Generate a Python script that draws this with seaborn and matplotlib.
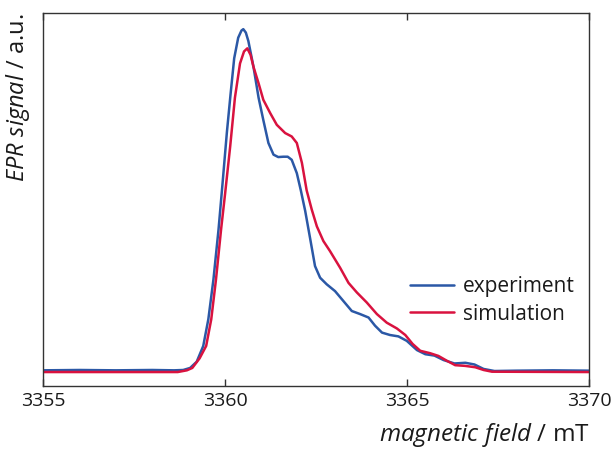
import pandas as pd
import seaborn as sns
from matplotlib import pyplot as plt

field_exp = [3355.0, 3356.0, 3357.0, 3358.0, 3358.6, 3358.85, 3359.04, 3359.22, 3359.4, 3359.54,
             3359.68, 3359.82, 3359.93, 3360.05, 3360.15, 3360.25, 3360.36, 3360.45, 3360.5, 3360.57,
             3360.64, 3360.78, 3360.92, 3361.05, 3361.19, 3361.33, 3361.46, 3361.6, 3361.72, 3361.83,
             3361.97, 3362.08, 3362.2, 3362.34, 3362.47, 3362.61, 3362.79, 3363.02, 3363.25, 3363.48,
             3363.71, 3363.94, 3364.12, 3364.31, 3364.53, 3364.76, 3364.99, 3365.27, 3365.5, 3365.75,
             3366.0, 3366.3, 3366.6, 3366.85, 3367.1, 3367.4, 3368.0, 3369.0, 3370.0]
signal_exp = [0.005, 0.006, 0.005, 0.006, 0.005, 0.006, 0.012, 0.03, 0.076, 0.154,
              0.27, 0.416, 0.55, 0.70, 0.81, 0.915, 0.975, 0.996, 1.0, 0.99,
              0.965, 0.89, 0.80, 0.735, 0.668, 0.634, 0.627, 0.628, 0.628, 0.619,
              0.58, 0.53, 0.47, 0.387, 0.309, 0.275, 0.256, 0.236, 0.207, 0.178,
              0.169, 0.159, 0.135, 0.115, 0.108, 0.104, 0.091, 0.064, 0.052, 0.048,
              0.035, 0.025, 0.027, 0.022, 0.009, 0.003, 0.004, 0.005, 0.004]

field_sim = [3355.0, 3357.0, 3358.7, 3358.95, 3359.1, 3359.3, 3359.48, 3359.62, 3359.75, 3359.89,
             3360.0, 3360.14, 3360.27, 3360.41, 3360.52, 3360.61, 3360.7, 3360.78, 3360.92, 3361.05,
             3361.24, 3361.42, 3361.65, 3361.83, 3361.97, 3362.11, 3362.24, 3362.38, 3362.52, 3362.7,
             3362.88, 3363.16, 3363.39, 3363.62, 3363.89, 3364.17, 3364.44, 3364.72, 3364.95, 3365.15,
             3365.36, 3365.63, 3365.86, 3366.09, 3366.32, 3366.59, 3366.87, 3367.1, 3367.33, 3370.0]
signal_sim = [0.0, 0.0, 0.0, 0.005, 0.012, 0.04, 0.076, 0.154, 0.27, 0.416,
              0.52, 0.658, 0.80, 0.90, 0.935, 0.944, 0.925, 0.89, 0.842, 0.794,
              0.755, 0.721, 0.697, 0.687, 0.668, 0.61, 0.53, 0.474, 0.425, 0.382,
              0.353, 0.304, 0.26, 0.232, 0.203, 0.169, 0.144, 0.127, 0.108, 0.082,
              0.062, 0.055, 0.047, 0.033, 0.02, 0.018, 0.014, 0.006, 0.001, 0.0]

df = pd.concat([
    pd.DataFrame({'field': field_exp, 'signal': signal_exp, 'kind': 'experiment'}),
    pd.DataFrame({'field': field_sim, 'signal': signal_sim, 'kind': 'simulation'}),
])

sns.set_style('white')
plt.rcParams['font.family'] = ['Open Sans', 'DejaVu Sans']
plt.rcParams['mathtext.fontset'] = 'custom'
plt.rcParams['mathtext.it'] = 'Open Sans:italic'
plt.rcParams['mathtext.rm'] = 'Open Sans'
plt.rcParams['lines.solid_joinstyle'] = 'round'

fig = plt.figure(figsize=(6.15, 4.5), dpi=100)
ax = fig.add_axes([0.07, 0.142, 0.888, 0.829])
sns.lineplot(data=df, x='field', y='signal', hue='kind', sort=False,
             palette={'experiment': '#2b58a6', 'simulation': '#d9123f'},
             linewidth=1.8, ax=ax)

ax.set_xlim(3355, 3370)
ax.set_ylim(-0.041, 1.047)
ax.set_xticks([3355, 3360, 3365, 3370])
ax.set_yticks([])
ax.tick_params(axis='x', direction='in', length=5, width=1, top=True, bottom=True,
               labelsize=14, pad=4, color='#333333', labelcolor='#1a1a1a')
for s in ax.spines.values():
    s.set_color('#333333')
    s.set_linewidth(1)

ax.set_xlabel(r'$\it{magnetic\ field}$ / mT', fontsize=17.5, loc='right', labelpad=8,
              color='#1a1a1a')
ax.set_ylabel(r'$\it{EPR\ signal}$ / a.u.', fontsize=17, loc='top', labelpad=8,
              color='#1a1a1a')

leg = ax.legend(loc='upper left', bbox_to_anchor=(0.672, 0.294), frameon=False,
                fontsize=15, handlelength=2.1, handletextpad=0.43, labelspacing=0.3,
                borderpad=0, borderaxespad=0, title=None)
for line in leg.get_lines():
    line.set_linewidth(1.8)
for t in leg.get_texts():
    t.set_color('#1a1a1a')

plt.savefig('out.png', dpi=100)
